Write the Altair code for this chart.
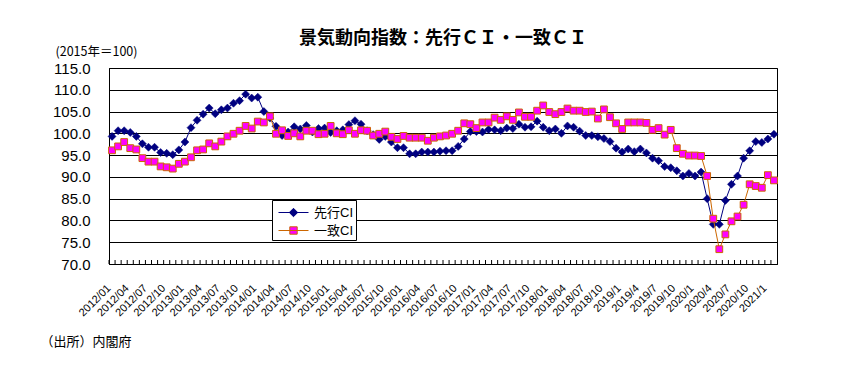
import altair as alt
import pandas as pd

# 先行CI (leading index), 2012/01 .. 2021/02
leading = [
    99.3, 100.6, 100.6, 100.2, 99.3, 97.6, 96.8, 96.8, 95.6, 95.4, 95.1, 96.2,
    98.0, 101.3, 103.0, 104.4, 105.8, 104.5, 105.4, 105.8, 106.9, 107.5, 109.0, 108.1,
    108.3, 105.0, 103.5, 101.6, 99.5, 100.3, 101.5, 101.0, 101.8, 100.3, 101.1, 101.2,
    100.2, 100.6, 100.8, 102.0, 102.9, 102.1, 100.6, 99.7, 98.6, 99.3, 98.0, 96.7,
    96.7, 95.3, 95.3, 95.7, 95.7, 95.7, 95.9, 96.0, 96.0, 97.0, 98.7, 100.4,
    100.4, 100.3, 100.9, 100.8, 100.6, 101.2, 101.1, 102.1, 101.4, 101.5, 102.8, 101.4,
    100.6, 101.0, 100.0, 101.7, 101.4, 100.5, 99.5, 99.5, 99.2, 98.8, 98.1, 96.6,
    95.7, 96.4, 95.8, 96.4, 95.5, 94.3, 93.7, 92.4, 92.1, 91.4, 90.2, 90.8,
    90.2, 91.1, 85.0, 79.1, 79.1, 84.6, 88.3, 90.2, 94.3, 96.0, 98.1, 97.9,
    98.7, 99.8,
]

# 一致CI (coincident index), 2012/01 .. 2021/02
coincident = [
    96.1, 97.0, 98.0, 96.6, 96.3, 94.3, 93.5, 93.5, 92.4, 92.2, 91.9, 93.0,
    93.5, 94.5, 96.1, 96.3, 97.7, 97.0, 98.1, 99.3, 99.9, 100.6, 101.7, 101.1,
    102.7, 102.5, 103.9, 99.9, 100.7, 99.4, 100.0, 99.3, 100.6, 100.6, 99.8, 99.9,
    101.7, 100.0, 99.8, 100.7, 99.9, 100.7, 100.6, 99.5, 99.9, 100.4, 99.2, 98.7,
    99.4, 99.0, 99.0, 99.0, 98.3, 99.0, 99.3, 99.5, 99.9, 100.6, 102.3, 102.1,
    101.2, 102.5, 102.5, 103.6, 103.1, 103.9, 103.1, 104.8, 103.8, 103.8, 105.2, 106.4,
    104.9, 104.4, 104.9, 105.7, 105.2, 105.2, 104.9, 105.0, 103.4, 105.5, 103.7, 102.3,
    101.0, 102.5, 102.5, 102.5, 102.4, 100.8, 101.2, 99.7, 100.8, 96.6, 95.3, 94.9,
    94.9, 94.8, 90.2, 80.4, 73.4, 76.8, 79.8, 80.9, 83.6, 88.3, 87.9, 87.5,
    90.4, 89.2,
]

tick_labels = [
    "2012/01", "2012/04", "2012/07", "2012/10", "2013/01", "2013/04", "2013/07", "2013/10",
    "2014/01", "2014/04", "2014/07", "2014/10", "2015/01", "2015/04", "2015/07", "2015/10",
    "2016/01", "2016/04", "2016/07", "2016/10", "2017/01", "2017/04", "2017/07", "2017/10",
    "2018/01", "2018/04", "2018/07", "2018/10", "2019/1", "2019/4", "2019/7", "2019/10",
    "2020/1", "2020/4", "2020/7", "2020/10", "2021/1",
]

y_ticks = [70, 75, 80, 85, 90, 95, 100, 105, 110, 115]
series_names = ["先行CI", "一致CI"]

months = []
for yr in range(2012, 2022):
    for mo in range(1, 13):
        if len(months) < len(leading):
            months.append(f"{yr}/{mo:02d}" if yr < 2019 else f"{yr}/{mo}")

df_lead = pd.DataFrame({"month": months, "value": leading, "series": series_names[0]})
df_coin = pd.DataFrame({"month": months, "value": coincident, "series": series_names[1]})
df_ticks = pd.DataFrame({"month": months})
df_legend = pd.DataFrame({"series": series_names})

NAVY = "#000080"
MAGENTA = "#FF00FF"
ORANGE = "#CC6600"
LATIN = "'Liberation Sans', 'Noto Sans CJK JP'"
CJK = "'Noto Sans CJK JP'"

W, H = 668, 196

xscale = alt.Scale(domain=months, paddingInner=0, paddingOuter=0)
yscale = alt.Scale(domain=[70, 115], nice=False, zero=False)

x_axis = alt.Axis(
    values=tick_labels, labelAngle=-45, labelAlign="right", labelBaseline="top",
    labelFont=LATIN, labelFontSize=11, labelColor="black", labelPadding=18,
    labelOffset=-7, ticks=False, domainColor="black", labelOverlap=False,
    titleFont=CJK, titleFontSize=13, titleFontWeight="normal", titleColor="black",
    titleX=-69, titleY=77, titleAlign="left", titleBaseline="middle", titleAnchor="start",
)
y_axis = alt.Axis(
    values=y_ticks, tickCount=10, format=".1f", labelFont=LATIN, labelFontSize=15,
    labelColor="black", labelPadding=19, ticks=False, domainColor="black",
    labelOverlap=False, labelFlush=False, labelBound=False,
    grid=True, gridColor="black", gridWidth=1, gridOpacity=1,
    titleAngle=0, titleFont=CJK, titleFontSize=12.5, titleFontWeight="normal",
    titleColor="black", titleX=-54, titleY=-17, titleAlign="left",
    titleBaseline="middle", titleAnchor="start",
)

x_enc = alt.X("month:O", scale=xscale, sort=None, title="（出所）内閣府", axis=x_axis)
y_enc = alt.Y("value:Q", scale=yscale, title="(2015年＝100)", axis=y_axis)

# legend symbols: a line segment with the marker in its middle
LEAD_SYM = "M-0.6,0H2.4M0.9,-0.42L1.32,0L0.9,0.42L0.48,0Z"
COIN_SYM = "M-0.6,0H2.4M0.53,-0.37H1.27V0.37H0.53Z"

legend = alt.Legend(
    title=None, orient="none", legendX=163, legendY=132, direction="vertical",
    padding=2, strokeColor="black", fillColor="white", cornerRadius=0,
    symbolSize=400, symbolStrokeWidth=1, symbolOpacity=1, rowPadding=0,
    labelFont=LATIN, labelFontSize=13, labelColor="black", labelOffset=19,
)

ticks_layer = alt.Chart(df_ticks).mark_rule(color="black", strokeWidth=1).encode(
    x=alt.X("month:O", scale=xscale, sort=None, bandPosition=0, title="（出所）内閣府", axis=x_axis),
    y=alt.value(H - 4), y2=alt.value(H),
)

line_lead = alt.Chart(df_lead).mark_line(strokeWidth=1, color=NAVY).encode(x=x_enc, y=y_enc)
pts_lead = alt.Chart(df_lead).mark_point(
    shape="diamond", filled=True, size=64, fill=NAVY, stroke=NAVY, strokeWidth=0.5, opacity=1
).encode(x=x_enc, y=y_enc)

line_coin = alt.Chart(df_coin).mark_line(strokeWidth=1, color=ORANGE).encode(x=x_enc, y=y_enc)
pts_coin = alt.Chart(df_coin).mark_point(
    shape="square", filled=True, size=46, fill=MAGENTA, stroke=ORANGE, strokeWidth=1, opacity=1
).encode(x=x_enc, y=y_enc)

# legend-only layer (no visible marks: all rows filtered out)
legend_layer = alt.Chart(df_legend).mark_point(filled=True, opacity=1, strokeWidth=1).encode(
    shape=alt.Shape("series:N", scale=alt.Scale(domain=series_names, range=[LEAD_SYM, COIN_SYM]), legend=legend),
    fill=alt.Fill("series:N", scale=alt.Scale(domain=series_names, range=[NAVY, MAGENTA]), legend=legend),
    stroke=alt.Stroke("series:N", scale=alt.Scale(domain=series_names, range=[NAVY, ORANGE]), legend=legend),
).transform_filter("datum.series == 'none'")

chart = alt.layer(line_lead, pts_lead, line_coin, pts_coin, ticks_layer, legend_layer).properties(
    width=W, height=H,
    autosize=alt.AutoSizeParams(type="none"),
    padding={"left": 101, "top": 60, "right": 70, "bottom": 93},
    background="white",
    title=alt.TitleParams(
        "景気動向指数：先行ＣＩ・一致ＣＩ", frame="group", anchor="middle",
        font=CJK, fontSize=18, fontWeight="bold", color="black",
        baseline="bottom", offset=20, dy=41,
    ),
).configure_view(stroke="black", strokeWidth=1)

chart.save("out.html", embed_options={"renderer": "svg", "actions": False})
